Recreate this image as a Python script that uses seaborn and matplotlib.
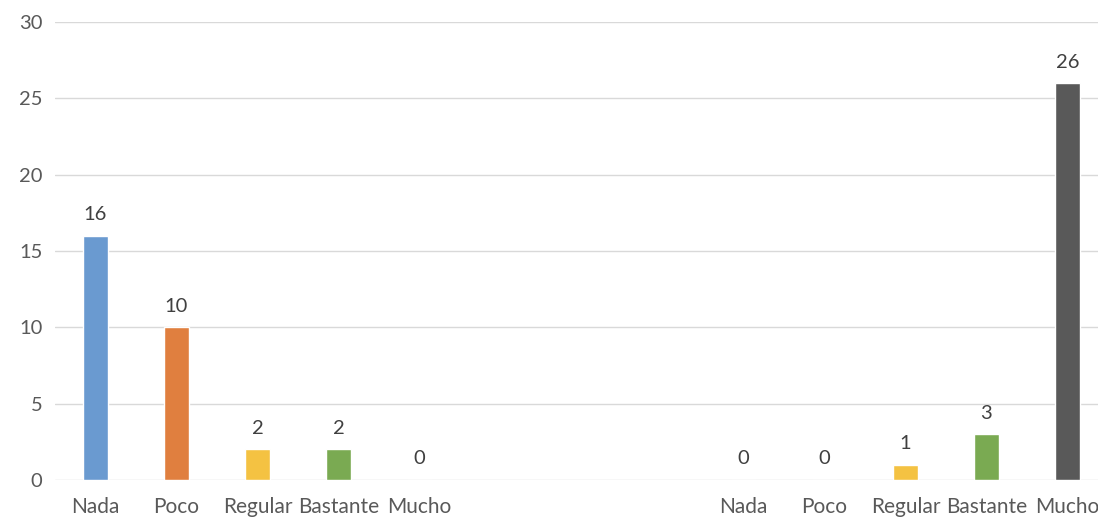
import matplotlib
matplotlib.use("Agg")
import matplotlib.pyplot as plt
import seaborn as sns
import pandas as pd

categories = ["Nada", "Poco", "Regular", "Bastante", "Mucho"]
group1_values = [16, 10, 2, 2, 0]
group2_values = [0, 0, 1, 3, 26]
colors = ["#6A9AD0", "#E07F3F", "#F4C242", "#7AAA52", "#595959"]

positions = list(range(5)) + list(range(8, 13))
df = pd.DataFrame({
    "pos": positions,
    "value": group1_values + group2_values,
    "cat": categories + categories,
})

sns.set_theme(style="white")
plt.rcParams["font.family"] = ["Lato", "DejaVu Sans"]

fig = plt.figure(figsize=(10.98, 5.19), dpi=100)
ax = fig.add_axes([55 / 1098, 39 / 519, 1053 / 1098, 458 / 519])

sns.barplot(data=df, x="pos", y="value", hue="cat", hue_order=categories,
            palette=colors, native_scale=True, dodge=False, width=0.31,
            legend=False, ax=ax, saturation=1)

for c in ax.containers:
    ax.bar_label(c, padding=9, fontsize=14.5, color="#404040")

ax.set_xlim(-0.5, 12.5)
ax.set_ylim(0, 30)
ax.set_yticks([0, 5, 10, 15, 20, 25, 30])
ax.set_xticks(positions)
ax.set_xticklabels(categories + categories)
ax.tick_params(axis="x", length=0, pad=12, labelsize=15, colors="#595959")
ax.tick_params(axis="y", length=0, pad=9, labelsize=14.5, colors="#595959")
ax.set_xlabel("")
ax.set_ylabel("")
ax.yaxis.grid(True, color="#D9D9D9", linewidth=1)
ax.set_axisbelow(True)
for s in ax.spines.values():
    s.set_visible(False)

fig.savefig("out.png", dpi=100)
